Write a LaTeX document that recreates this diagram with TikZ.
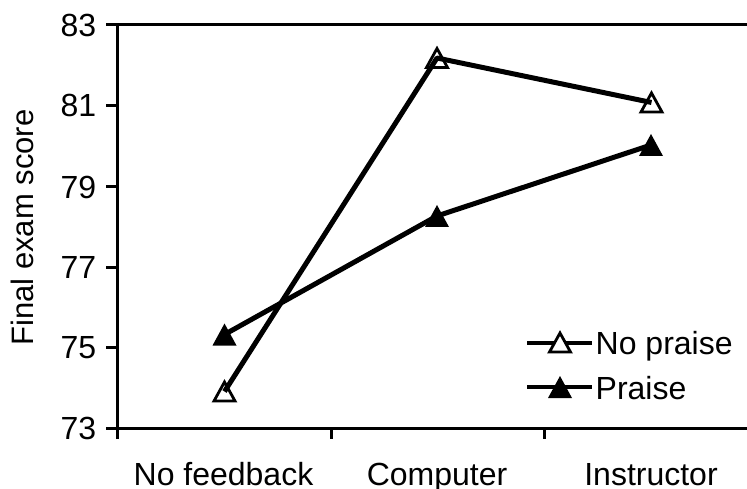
\documentclass[tikz,border=0pt]{standalone}
\usepackage{fontspec}
\setmainfont{Liberation Sans}
\begin{document}
\begin{tikzpicture}[x=1pt,y=-1pt,
  axis/.style={line width=3pt},
  dataline/.style={line width=5pt, line join=round},
  legline/.style={line width=4pt},
  ticklabel/.style={anchor=east, inner sep=0pt, font=\fontsize{32}{36}\selectfont},
  catlabel/.style={anchor=base, inner sep=0pt, font=\fontsize{32}{36}\selectfont},
  leglabel/.style={anchor=base west, inner sep=0pt, font=\fontsize{32}{36}\selectfont},
  opentri/.pic={\draw[line width=2.8pt, fill=white, line join=miter] (-10.5,9.5) -- (10.5,9.5) -- (0,-9.5) -- cycle;},
  filltri/.pic={\fill[black] (-12,11) -- (12,11) -- (0,-11) -- cycle;}
]
\useasboundingbox (0,0) rectangle (747,489);

% axes
\coordinate (yb) at (117,439);
\coordinate (yt) at (117,25);
\coordinate (xl) at (106,428.5);
\coordinate (xr) at (747,428.5);
\coordinate (gl) at (106,25);
\coordinate (gr) at (747,25);
\draw[axis] (yb) -- (yt);
\draw[axis] (xl) -- (xr);
\draw[axis] (gl) -- (gr);

% y ticks and labels
\foreach \v/\yy in {83/25, 81/105.7, 79/187, 77/267.5, 75/347.8, 73/428.5}{
  \coordinate (yt\v) at (106,\yy);
  \coordinate (ya\v) at (117,\yy);
  \draw[axis] (yt\v) -- (ya\v);
  \node[ticklabel] (yl\v) at (96.5,\yy) {\v};
}

% x ticks
\foreach \xx [count=\i] in {331,544}{
  \coordinate (xt\i) at (\xx,428.5);
  \coordinate (xb\i) at (\xx,439);
  \draw[axis] (xt\i) -- (xb\i);
}

% category labels
\node[catlabel] (c1) at (223.5,485) {No feedback};
\node[catlabel] (c2) at (437,485) {Computer};
\node[catlabel] (c3) at (651,485) {Instructor};

% y axis title
\node[anchor=base, rotate=90, inner sep=0pt, font=\fontsize{31}{36}\selectfont] (ylab) at (33,227.5) {Final exam score};

% data points
\coordinate (n1) at (224.5,391.5);
\coordinate (n2) at (437,58);
\coordinate (n3) at (651.5,102.5);
\coordinate (p1) at (224.5,334.5);
\coordinate (p2) at (437,216);
\coordinate (p3) at (651,145);

\foreach \c in {n1,n2,n3} \pic at (\c) {opentri};
\foreach \c in {p1,p2,p3} \pic at (\c) {filltri};

\draw[dataline] (n1) -- (n2) -- (n3);
\draw[dataline] (p1) -- (p2) -- (p3);

% legend
\coordinate (la1) at (527,342.5);
\coordinate (lb1) at (592,342.5);
\coordinate (la2) at (527,387);
\coordinate (lb2) at (592,387);
\coordinate (lm1) at (560,342.5);
\coordinate (lm2) at (560,387);
\draw[legline] (la1) -- (lb1);
\draw[legline] (la2) -- (lb2);
\pic at (lm1) {opentri};
\pic at (lm2) {filltri};
\node[leglabel] (lt1) at (595.5,354.5) {No praise};
\node[leglabel] (lt2) at (595.5,399.5) {Praise};
\end{tikzpicture}
\end{document}
